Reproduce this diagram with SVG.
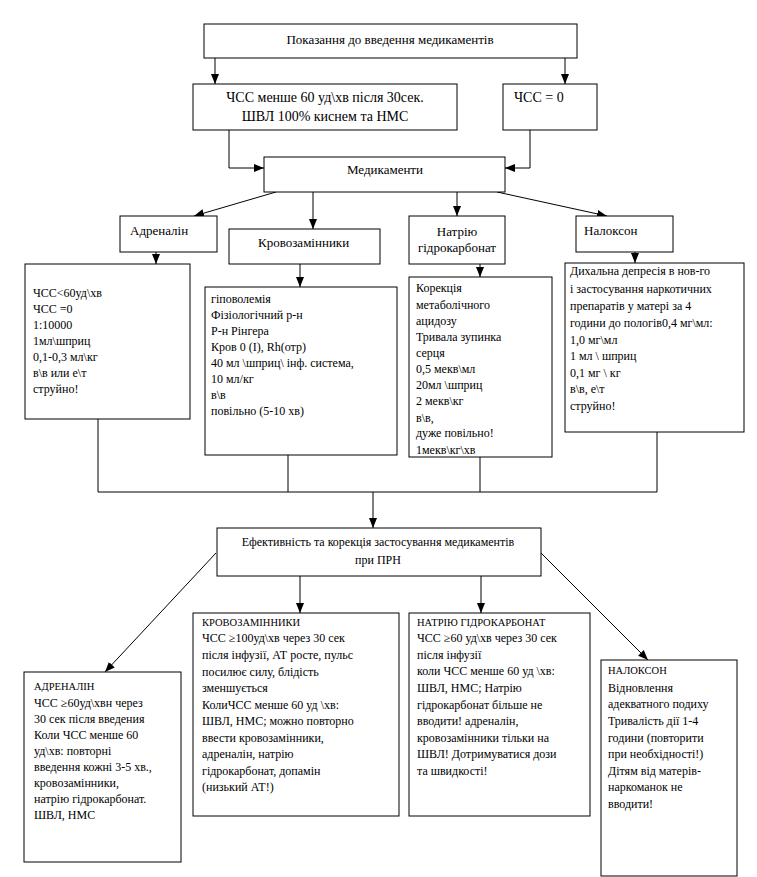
<svg xmlns="http://www.w3.org/2000/svg" width="757" height="877" viewBox="0 0 757 877">
<defs>
<marker id="ah" markerUnits="userSpaceOnUse" markerWidth="10" markerHeight="10" viewBox="0 0 10 10" refX="10" refY="5" orient="auto">
<path d="M0,1 L10,5 L0,9 Z" fill="#000"/>
</marker>
<style>
rect{fill:#fff;stroke:#000;stroke-width:1}
text{font-family:"Liberation Serif","Times New Roman",serif;font-size:12px;fill:#000}
.c{text-anchor:middle}
.h{font-size:10.5px}
.big{font-size:14px}
.m{font-size:13px}
#conn line,#conn polyline{stroke:#000;stroke-width:1;fill:none}
.a{marker-end:url(#ah)}
</style>
</defs>
<rect x="0" y="0" width="757" height="877" style="fill:#fff;stroke:none"/>
<g id="conn">
<line class="a" x1="215" y1="58" x2="215" y2="84"/>
<line class="a" x1="565" y1="58" x2="565" y2="84"/>
<polyline class="a" points="229,130 229,168 264,168"/>
<polyline class="a" points="530,130 530,168 505,168"/>
<line class="a" x1="276" y1="192" x2="194" y2="216"/>
<line class="a" x1="313" y1="192" x2="313" y2="229"/>
<line class="a" x1="457" y1="192" x2="457" y2="216"/>
<line class="a" x1="497" y1="192" x2="607" y2="216"/>
<line class="a" x1="156" y1="252" x2="156" y2="264"/>
<line class="a" x1="300" y1="264" x2="300" y2="287"/>
<line class="a" x1="480" y1="264" x2="480" y2="277"/>
<line class="a" x1="635" y1="252" x2="635" y2="263"/>
<line x1="98" y1="419" x2="98" y2="492"/>
<line x1="288" y1="455" x2="288" y2="492"/>
<line x1="480" y1="457" x2="480" y2="492"/>
<line x1="657" y1="432" x2="657" y2="492"/>
<line x1="98" y1="492" x2="657" y2="492"/>
<line class="a" x1="373" y1="492" x2="373" y2="528"/>
<line class="a" x1="216" y1="553" x2="105" y2="672"/>
<line class="a" x1="300" y1="576" x2="300" y2="613"/>
<line class="a" x1="481" y1="576" x2="481" y2="613"/>
<line class="a" x1="541" y1="553" x2="648" y2="660"/>
</g>
<g id="n-pokazannia">
<rect x="204" y="24" width="373" height="34"/>
<text class="c m" x="390" y="44">Показання до введення медикаментів</text>
</g>
<g id="n-chss60">
<rect x="193" y="84" width="264" height="46"/>
<text class="c big" x="325" y="102">ЧСС  менше 60 уд\хв після 30сек.</text>
<text class="c big" x="325" y="121">ШВЛ 100% киснем та НМС</text>
</g>
<g id="n-chss0">
<rect x="503" y="84" width="94" height="46"/>
<text class="big" x="514" y="102">ЧСС = 0</text>
</g>
<g id="n-medykamenty">
<rect x="264" y="157" width="241" height="35"/>
<text class="c m" x="385" y="174">Медикаменти</text>
</g>
<g id="n-adrenalin">
<rect x="120" y="216" width="97" height="36"/>
<text class="m" x="130" y="235">Адреналін</text>
</g>
<g id="n-krovozam">
<rect x="229" y="229" width="151" height="35"/>
<text class="m" x="258" y="247">Кровозамінники</text>
</g>
<g id="n-natriu">
<rect x="409" y="216" width="96" height="48"/>
<text class="c m" x="457" y="236">Натрію</text>
<text class="c m" x="457" y="252">гідрокарбонат</text>
</g>
<g id="n-nalokson">
<rect x="576" y="216" width="97" height="36"/>
<text class="m" x="584" y="235">Налоксон</text>
</g>
<g id="n-adr-dose">
<rect x="25" y="264" width="165" height="155"/>
<text x="33" y="297">ЧСС&lt;60уд\хв</text>
<text x="33" y="313">ЧСС =0</text>
<text x="33" y="329">1:10000</text>
<text x="33" y="345">1мл\шприц</text>
<text x="33" y="361">0,1-0,3 мл\кг</text>
<text x="33" y="377">в\в или е\т</text>
<text x="33" y="393">струйно!</text>
</g>
<g id="n-krov-dose">
<rect x="205" y="287" width="192" height="168"/>
<text x="211" y="303">гіповолемія</text>
<text x="211" y="319">Фізіологічний р-н</text>
<text x="211" y="335">Р-н Рінгера</text>
<text x="211" y="351">Кров 0 (I), Rh(отр)</text>
<text x="211" y="367">40 мл \шприц\ інф. система,</text>
<text x="211" y="383">10 мл/кг</text>
<text x="211" y="399">в\в</text>
<text x="211" y="415">повільно (5-10 хв)</text>
</g>
<g id="n-natr-dose">
<rect x="409" y="277" width="143" height="180"/>
<text x="416" y="292">Корекція</text>
<text x="416" y="309">метаболічного</text>
<text x="416" y="325">ацидозу</text>
<text x="416" y="341">Тривала зупинка</text>
<text x="416" y="357">серця</text>
<text x="416" y="373">0,5 мекв\мл</text>
<text x="416" y="389">20мл \шприц</text>
<text x="416" y="405">2 мекв\кг</text>
<text x="416" y="422">в\в,</text>
<text x="416" y="437">дуже повільно!</text>
<text x="416" y="454">1мекв\кг\хв</text>
</g>
<g id="n-nal-dose">
<rect x="565" y="263" width="179" height="169"/>
<text x="570" y="275">Дихальна депресія в нов-го</text>
<text x="570" y="293">і застосування наркотичних</text>
<text x="570" y="310">препаратів у матері за 4</text>
<text x="570" y="327">години до пологів0,4 мг\мл:</text>
<text x="570" y="344">1,0 мг\мл</text>
<text x="570" y="360">1 мл \ шприц</text>
<text x="570" y="377">0,1 мг \ кг</text>
<text x="570" y="393">в\в, е\т</text>
<text x="570" y="410">струйно!</text>
</g>
<g id="n-efekt">
<rect x="217" y="528" width="324" height="48"/>
<text class="c" x="378" y="546">Ефективність та корекція застосування медикаментів</text>
<text class="c" x="378" y="564">при ПРН</text>
</g>
<g id="n-adr-res">
<rect x="24" y="672" width="157" height="190"/>
<text class="h" x="34" y="690">АДРЕНАЛІН</text>
<text x="34" y="707">ЧСС ≥60уд\хвн через</text>
<text x="34" y="723">30 сек після введения</text>
<text x="34" y="739">Коли ЧСС менше 60</text>
<text x="34" y="755">уд\хв: повторні</text>
<text x="34" y="771">введення кожні 3-5 хв.,</text>
<text x="34" y="787">кровозамінники,</text>
<text x="34" y="803">натрію гідрокарбонат.</text>
<text x="34" y="819">ШВЛ, НМС</text>
</g>
<g id="n-krov-res">
<rect x="193" y="613" width="206" height="203"/>
<text class="h" x="202" y="626">КРОВОЗАМІННИКИ</text>
<text x="202" y="642">ЧСС ≥100уд\хв через 30 сек</text>
<text x="202" y="659">після інфузії, АТ росте, пульс</text>
<text x="202" y="676">посилює силу, блідість</text>
<text x="202" y="692">зменшується</text>
<text x="202" y="709">КолиЧСС менше 60 уд \хв:</text>
<text x="202" y="725">ШВЛ, НМС; можно повторно</text>
<text x="202" y="742">ввести кровозамінники,</text>
<text x="202" y="758">адреналін, натрію</text>
<text x="202" y="775">гідрокарбонат, допамін</text>
<text x="202" y="791">(низький АТ!)</text>
</g>
<g id="n-natr-res">
<rect x="409" y="613" width="181" height="203"/>
<text class="h" x="417" y="626">НАТРІЮ ГІДРОКАРБОНАТ</text>
<text x="417" y="642">ЧСС ≥60 уд\хв через 30 сек</text>
<text x="417" y="659">після інфузії</text>
<text x="417" y="675">коли ЧСС менше 60 уд \хв:</text>
<text x="417" y="692">ШВЛ, НМС; Натрію</text>
<text x="417" y="709">гідрокарбонат більше не</text>
<text x="417" y="725">вводити! адреналін,</text>
<text x="417" y="742">кровозамінники тільки на</text>
<text x="417" y="758">ШВЛ! Дотримуватися дози</text>
<text x="417" y="775">та швидкості!</text>
</g>
<g id="n-nal-res">
<rect x="601" y="660" width="136" height="216"/>
<text class="h" x="608" y="674">НАЛОКСОН</text>
<text x="608" y="692">Відновлення</text>
<text x="608" y="708">адекватного подиху</text>
<text x="608" y="725">Тривалість дії 1-4</text>
<text x="608" y="742">години (повторити</text>
<text x="608" y="758">при необхідності!)</text>
<text x="608" y="775">Дітям від матерів-</text>
<text x="608" y="791">наркоманок не</text>
<text x="608" y="808">вводити!</text>
</g>
</svg>
